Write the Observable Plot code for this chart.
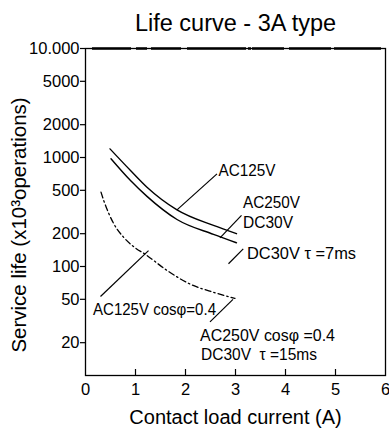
<!DOCTYPE html>
<html>
<head>
<meta charset="utf-8">
<script src="https://cdn.jsdelivr.net/npm/d3@7"></script>
<script src="https://cdn.jsdelivr.net/npm/@observablehq/plot@0.6"></script>
<style>
  html, body { margin: 0; padding: 0; background: #fff; }
  svg { display: block; }
</style>
</head>
<body>
<div id="chart"></div>
<script>
// ---- data ----
const titleText = "Life curve - 3A type";
const xLabel = "Contact load current (A)";
const yLabel = "Service life (x10³operations)";

const xTicks = [0, 1, 2, 3, 4, 5, 6];
const xInnerTicks = [1, 2, 3, 4, 5];
const yTicks = [10000, 5000, 2000, 1000, 500, 200, 100, 50, 20];
const yTickLabels = ["10.000", "5000", "2000", "1000", "500", "200", "100", "50", "20"];

// AC125V (resistive)
const ac125 = [[0.49, 1200], [0.9, 760], [1.23, 534], [1.83, 331], [2.56, 238], [3.02, 200]];
// AC250V / DC30V (resistive)
const ac250 = [[0.51, 975], [0.9, 615], [1.23, 440], [1.83, 270], [2.56, 197], [3.02, 165]];
// inductive: AC125V cosφ=0.4, AC250V cosφ=0.4, DC30V τ=15ms
const inductive = [[0.31, 481], [0.365, 403], [0.565, 247], [0.76, 186], [0.98, 150], [1.2, 129],
                   [1.63, 92], [2.09, 69], [2.56, 58], [2.99, 51]];

// annotation leaders [x1, y1, x2, y2]
const leaders = [
  [1.83, 331, 2.63, 708],
  [2.69, 183, 3.12, 294],
  [2.86, 106, 3.155, 145],
  [1.26, 140, 0.3, 53],
  [2.95, 50, 2.49, 31]
];
// annotation texts [x, y, text, width]
const notes = [
  [2.66, 760, "AC125V", 57],
  [3.15, 386, "AC250V", 57],
  [3.15, 253, "DC30V", 50],
  [3.23, 131, "DC30V τ =7ms", 109],
  [0.15, 40, "AC125V cosφ=0.4", 123],
  [2.29, 23.2, "AC250V cosφ =0.4", 135],
  [2.31, 15.3, "DC30V  τ =15ms", 116]
];

const series = [
  ...ac125.map(([x, y]) => ({x, y, s: "AC125V"})),
  ...ac250.map(([x, y]) => ({x, y, s: "AC250V"}))
];
const dash = inductive.map(([x, y]) => ({x, y}));
const yTickData = yTicks.map((v, i) => ({v, label: yTickLabels[i]}));

const W = 389, H = 432, mT = 48, mB = 57, mL = 85, mR = 4;
const fontFamily = "'Liberation Sans', Arial, sans-serif";

const chart = Plot.plot({
  width: W,
  height: H,
  marginTop: mT,
  marginBottom: mB,
  marginLeft: mL,
  marginRight: mR,
  style: {fontFamily, color: "#000", background: "#fff"},
  x: {domain: [0, 6], axis: null},
  y: {type: "log", domain: [10, 10000], axis: null},
  marks: [
    Plot.frame({stroke: "#000", strokeWidth: 1.3}),
    Plot.ruleY([10000], {stroke: "#000", strokeWidth: 2.6, insetLeft: 7, insetRight: 4,
      strokeDasharray: "39,5,11,4,30,6,59,2,3,1,32,5,42,3,60"}),
    // inward x ticks
    Plot.ruleX(xInnerTicks, {stroke: "#000", strokeWidth: 1.2, insetTop: H - mT - mB - 6}),
    // outward y ticks
    Plot.ruleY(yTickData, {y: "v", stroke: "#000", strokeWidth: 1.2, insetLeft: -5, insetRight: W - mL - mR}),
    Plot.text(yTickData, {y: "v", text: "label", frameAnchor: "left", textAnchor: "end", dx: -6,
      fontSize: 16.5, fill: "#000"}),
    Plot.text(xTicks, {x: (d) => d, text: (d) => String(d), frameAnchor: "bottom", lineAnchor: "top",
      dy: 8, fontSize: 16.5, fill: "#000"}),
    Plot.line(series, {x: "x", y: "y", z: "s", curve: "monotone-x", stroke: "#000", strokeWidth: 1.4}),
    Plot.line(dash, {x: "x", y: "y", curve: "monotone-x", stroke: "#000", strokeWidth: 1.3,
      strokeDasharray: "6,3,1.5,3"}),
    Plot.link(leaders, {x1: (d) => d[0], y1: (d) => d[1], x2: (d) => d[2], y2: (d) => d[3],
      stroke: "#000", strokeWidth: 1.2}),
    Plot.text(notes, {x: (d) => d[0], y: (d) => d[1], text: (d) => d[2], textAnchor: "start",
      fontSize: 16, fill: "#000", className: "note"}),
    Plot.text([titleText], {frameAnchor: "top", lineAnchor: "middle", dy: -25, fontSize: 23.5, fill: "#000"}),
    Plot.text([xLabel], {frameAnchor: "bottom", lineAnchor: "middle", dy: 42, fontSize: 20, fill: "#000"}),
    Plot.text([yLabel], {frameAnchor: "left", textAnchor: "middle", lineAnchor: "middle", rotate: -90,
      dx: -66, dy: 13, fontSize: 20.5, fill: "#000"})
  ]
});

// fit annotation texts to the widths
chart.querySelectorAll("g.note text").forEach((t) => {
  const n = notes.find((d) => d[2] === t.textContent);
  if (n) { t.setAttribute("textLength", n[3]); t.setAttribute("lengthAdjust", "spacingAndGlyphs"); }
});

document.getElementById("chart").appendChild(chart);
</script>
</body>
</html>
